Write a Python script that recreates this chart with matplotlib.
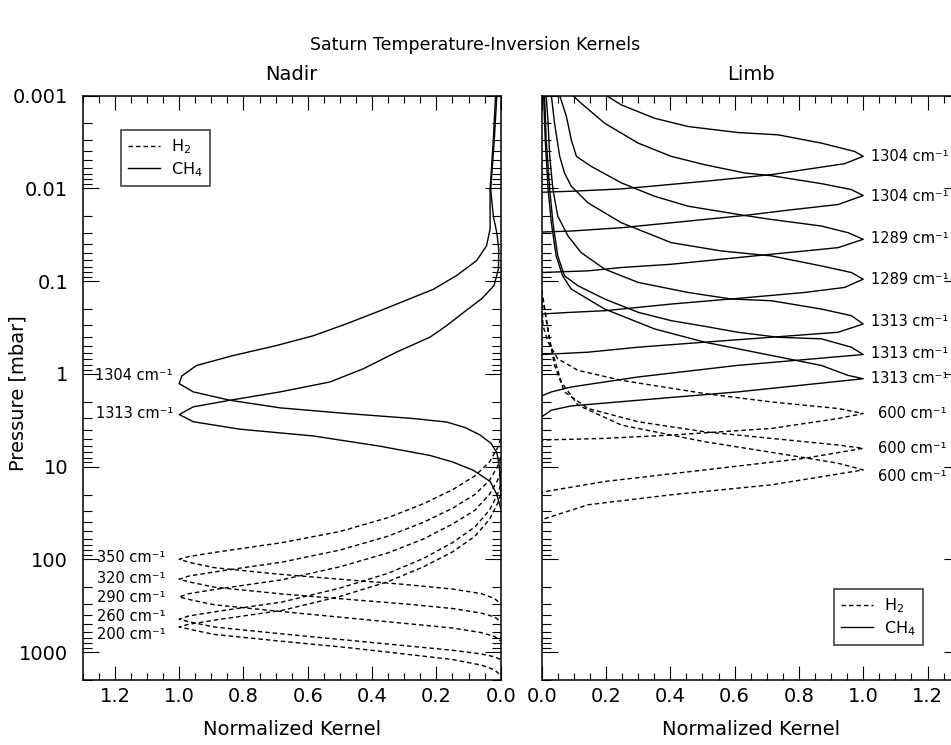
import matplotlib
matplotlib.use("Agg")
import matplotlib.pyplot as plt
import numpy as np
from matplotlib.lines import Line2D
from matplotlib.ticker import FixedLocator, NullFormatter, LogLocator

plt.rcParams['font.family'] = ['DejaVu Sans']

# ---- data: log10(pressure / mbar) and normalized kernel ----
# Nadir, CH4
nadir_1304_logp = [-3.0, -2.52, -1.99, -1.56, -1.38, -1.22, -1.06, -0.91, -0.68, -0.54, -0.41, -0.305,
                   -0.197, -0.09, 0.024, 0.106, 0.195, 0.285, 0.367, 0.428, 0.482, 0.52, 0.58, 0.66,
                   0.75, 0.85, 1.0, 1.3]
nadir_1304_k = [0.016, 0.023, 0.033, 0.033, 0.044, 0.075, 0.137, 0.21, 0.375, 0.479, 0.583, 0.697,
                0.832, 0.946, 0.992, 1.0, 0.956, 0.842, 0.686, 0.479, 0.272, 0.168, 0.11, 0.064,
                0.03, 0.012, 0.004, 0.0]
nadir_1313_logp = [-3.0, -2.52, -1.99, -1.70, -1.52, -1.34, -1.13, -0.95, -0.81, -0.66, -0.52, -0.395,
                   -0.234, -0.055, 0.088, 0.195, 0.285, 0.356, 0.439, 0.517, 0.597, 0.67, 0.78, 0.88,
                   0.95, 1.04, 1.16, 1.3, 1.45]
nadir_1313_k = [0.012, 0.02, 0.031, 0.023, 0.012, 0.006, 0.007, 0.021, 0.059, 0.116, 0.168, 0.22,
                0.324, 0.427, 0.531, 0.686, 0.842, 0.956, 1.0, 0.956, 0.811, 0.583, 0.376, 0.22,
                0.15, 0.085, 0.033, 0.012, 0.0]

# Nadir, H2
nadir_350_logp = [0.7, 0.8, 0.95, 1.1, 1.25, 1.4, 1.55, 1.7, 1.82, 1.92, 1.97, 2.0,
                  2.04, 2.09, 2.16, 2.22, 2.27, 2.32, 2.37, 2.42, 2.48]
nadir_350_k = [0.0, 0.01, 0.035, 0.08, 0.15, 0.24, 0.35, 0.5, 0.68, 0.88, 0.97, 1.0,
               0.96, 0.89, 0.69, 0.48, 0.3, 0.15, 0.06, 0.02, 0.0]
nadir_320_logp = [0.9, 1.0, 1.15, 1.3, 1.45, 1.6, 1.75, 1.9, 2.03, 2.13, 2.18, 2.216,
                  2.25, 2.3, 2.37, 2.43, 2.48, 2.53, 2.58, 2.62, 2.67]
nadir_320_k = [0.0, 0.01, 0.035, 0.08, 0.15, 0.24, 0.35, 0.5, 0.68, 0.88, 0.97, 1.0,
               0.96, 0.89, 0.69, 0.48, 0.3, 0.15, 0.06, 0.02, 0.0]
nadir_290_logp = [1.05, 1.15, 1.3, 1.47, 1.62, 1.78, 1.93, 2.08, 2.22, 2.32, 2.37, 2.406,
                  2.44, 2.49, 2.56, 2.63, 2.69, 2.74, 2.79, 2.83, 2.88]
nadir_290_k = [0.0, 0.01, 0.035, 0.08, 0.15, 0.24, 0.35, 0.5, 0.68, 0.88, 0.97, 1.0,
               0.96, 0.89, 0.69, 0.48, 0.3, 0.15, 0.06, 0.02, 0.0]
nadir_260_logp = [1.2, 1.3, 1.47, 1.65, 1.82, 1.99, 2.15, 2.31, 2.46, 2.56, 2.61, 2.646,
                  2.68, 2.73, 2.8, 2.87, 2.93, 2.98, 3.02, 3.05, 3.08]
nadir_260_k = [0.0, 0.01, 0.035, 0.08, 0.15, 0.24, 0.35, 0.5, 0.68, 0.88, 0.97, 1.0,
               0.96, 0.89, 0.69, 0.48, 0.3, 0.15, 0.06, 0.02, 0.0]
nadir_200_logp = [1.3, 1.4, 1.57, 1.75, 1.92, 2.08, 2.24, 2.4, 2.55, 2.65, 2.7, 2.728,
                  2.76, 2.81, 2.88, 2.95, 3.02, 3.08, 3.14, 3.19, 3.25]
nadir_200_k = [0.0, 0.01, 0.035, 0.08, 0.15, 0.24, 0.35, 0.5, 0.68, 0.88, 0.97, 1.0,
               0.96, 0.89, 0.69, 0.48, 0.3, 0.15, 0.06, 0.02, 0.0]

# Limb, CH4
limb_1304a_logp = [-3.0, -2.898, -2.755, -2.666, -2.601, -2.576, -2.487, -2.397, -2.344,
                   -2.265, -2.201, -2.147, -2.075, -1.993, -1.968, -1.957]
limb_1304a_k = [0.201, 0.248, 0.351, 0.455, 0.61, 0.735, 0.87, 0.973, 1.0,
                0.942, 0.818, 0.714, 0.507, 0.248, 0.092, 0.0]
limb_1304b_logp = [-3.0, -2.916, -2.701, -2.487, -2.344, -2.254, -2.165, -2.136, -2.05, -1.986, -1.922,
                   -1.825, -1.764, -1.707, -1.646, -1.575, -1.539, -1.528]
limb_1304b_k = [0.097, 0.123, 0.196, 0.3, 0.403, 0.507, 0.631, 0.714, 0.87, 0.963, 1.0,
                0.922, 0.766, 0.631, 0.455, 0.248, 0.092, 0.0]
limb_1289a_logp = [-3.0, -2.773, -2.523, -2.344, -2.236, -2.058, -1.914, -1.807, -1.707, -1.664, -1.593,
                   -1.521, -1.45, -1.36, -1.324, -1.289, -1.235, -1.181, -1.146, -1.11, -1.092]
limb_1289a_k = [0.056, 0.077, 0.092, 0.108, 0.154, 0.248, 0.351, 0.455, 0.631, 0.714, 0.87,
                0.953, 1.0, 0.922, 0.818, 0.714, 0.559, 0.403, 0.248, 0.144, 0.0]
limb_1289b_logp = [-3.0, -2.701, -2.344, -2.165, -2.022, -1.843, -1.628, -1.414, -1.324, -1.271, -1.163,
                   -1.092, -1.02, -0.931, -0.877, -0.813, -0.752, -0.68, -0.663, -0.645]
limb_1289b_k = [0.03, 0.04, 0.056, 0.071, 0.092, 0.144, 0.248, 0.403, 0.559, 0.714, 0.87,
                0.963, 1.0, 0.942, 0.818, 0.61, 0.403, 0.196, 0.092, 0.0]
limb_1313a_logp = [-3.0, -2.701, -2.344, -1.986, -1.7, -1.485, -1.306, -1.128, -0.985, -0.877, -0.806,
                   -0.788, -0.698, -0.627, -0.537, -0.448, -0.394, -0.341, -0.287, -0.233, -0.208]
limb_1313a_k = [0.014, 0.02, 0.025, 0.035, 0.05, 0.082, 0.123, 0.196, 0.3, 0.455, 0.59,
                0.714, 0.87, 0.963, 1.0, 0.922, 0.714, 0.507, 0.3, 0.144, 0.0]
limb_1313b_logp = [-3.0, -2.523, -1.986, -1.628, -1.271, -1.056, -0.949, -0.806, -0.663, -0.573, -0.512,
                   -0.448, -0.394, -0.377, -0.287, -0.208, -0.091, 0.034, 0.142, 0.195, 0.238]
limb_1313b_k = [0.009, 0.014, 0.025, 0.035, 0.05, 0.071, 0.113, 0.196, 0.3, 0.403, 0.507,
                0.61, 0.735, 0.87, 0.963, 1.0, 0.61, 0.3, 0.092, 0.03, 0.0]
limb_1313c_logp = [-3.0, -2.523, -1.986, -1.628, -1.271, -1.056, -0.913, -0.698, -0.484, -0.341, -0.198,
                   -0.09, 0.017, 0.053, 0.195, 0.285, 0.346, 0.392, 0.464]
limb_1313c_k = [0.006, 0.011, 0.02, 0.03, 0.045, 0.065, 0.092, 0.196, 0.351, 0.507, 0.714,
                0.87, 0.953, 1.0, 0.61, 0.3, 0.092, 0.03, 0.0]

# Limb, H2
limb_600a_logp = [-0.9, -0.52, -0.341, -0.162, -0.037, 0.07, 0.213, 0.303, 0.374, 0.428,
                  0.482, 0.589, 0.66, 0.696, 0.714]
limb_600a_k = [0.0, 0.004, 0.02, 0.05, 0.113, 0.248, 0.507, 0.714, 0.922, 1.0,
               0.922, 0.714, 0.403, 0.196, 0.0]
limb_600b_logp = [-0.9, -0.448, -0.091, 0.195, 0.374, 0.517, 0.625, 0.696, 0.768, 0.803,
                  0.911, 1.036, 1.161, 1.276]
limb_600b_k = [0.0, 0.02, 0.04, 0.071, 0.144, 0.3, 0.507, 0.714, 0.922, 1.0,
               0.818, 0.507, 0.196, 0.0]
limb_600c_logp = [-0.9, -0.27, 0.088, 0.338, 0.553, 0.732, 0.875, 0.964, 1.036,
                  1.197, 1.304, 1.412, 1.572]
limb_600c_k = [0.0, 0.03, 0.061, 0.113, 0.248, 0.507, 0.766, 0.922, 1.0,
               0.714, 0.403, 0.144, 0.0]

nadir_ch4 = [(nadir_1304_logp, nadir_1304_k), (nadir_1313_logp, nadir_1313_k)]
nadir_h2 = [(nadir_350_logp, nadir_350_k), (nadir_320_logp, nadir_320_k), (nadir_290_logp, nadir_290_k),
            (nadir_260_logp, nadir_260_k), (nadir_200_logp, nadir_200_k)]
limb_ch4 = [(limb_1304a_logp, limb_1304a_k), (limb_1304b_logp, limb_1304b_k),
            (limb_1289a_logp, limb_1289a_k), (limb_1289b_logp, limb_1289b_k),
            (limb_1313a_logp, limb_1313a_k), (limb_1313b_logp, limb_1313b_k),
            (limb_1313c_logp, limb_1313c_k)]
limb_h2 = [(limb_600a_logp, limb_600a_k), (limb_600b_logp, limb_600b_k), (limb_600c_logp, limb_600c_k)]

# curve labels: wavenumber and log10 pressure of the label
nadir_labels = ['1304', '1313', '350', '320', '290', '260', '200']
nadir_label_logp = [0.017, 0.428, 1.984, 2.206, 2.413, 2.617, 2.813]
limb_labels = ['1304', '1304', '1289', '1289', '1313', '1313', '1313', '600', '600', '600']
limb_label_logp = [-2.344, -1.915, -1.457, -1.02, -0.563, -0.216, 0.053, 0.428, 0.803, 1.107]

ytick_vals = [0.001, 0.01, 0.1, 1, 10, 100, 1000]
ytick_text = ['0.001', '0.01', '0.1', '1', '10', '100', '1000']
xtick_vals = [0.0, 0.2, 0.4, 0.6, 0.8, 1.0, 1.2]

DASH = (0, (3.2, 2.2))
LW = 1.0

fig = plt.figure(figsize=(9.51, 7.45), dpi=100)
ax1 = fig.add_axes([0.087, 0.0872, 0.4395, 0.7846])
ax2 = fig.add_axes([0.5696, 0.0872, 0.4395, 0.7846])

for ax in (ax1, ax2):
    ax.set_yscale('log')
    ax.set_ylim(2000, 0.001)
    ax.yaxis.set_major_locator(FixedLocator(ytick_vals))
    ax.yaxis.set_minor_locator(LogLocator(base=10, subs=np.arange(2, 10)))
    ax.yaxis.set_minor_formatter(NullFormatter())
    ax.xaxis.set_major_locator(FixedLocator(xtick_vals))
    ax.xaxis.set_minor_locator(FixedLocator(np.arange(0, 1.31, 0.05)))
    ax.tick_params(which='both', direction='in', top=True, right=True, width=0.8, labelsize=14)
    ax.tick_params(axis='x', which='major', length=10, pad=5)
    ax.tick_params(axis='x', which='minor', length=5)
    ax.tick_params(axis='y', which='major', length=11.5, pad=10.5)
    ax.tick_params(axis='y', which='minor', length=6.5)
    ax.set_xticklabels(['%.1f' % v for v in xtick_vals])
    for s in ax.spines.values():
        s.set_linewidth(1.1)
    ax.set_xlabel('Normalized Kernel', fontsize=14, labelpad=10)

ax1.set_xlim(1.3, 0.0)
ax2.set_xlim(0.0, 1.3)
ax1.set_yticklabels(ytick_text)
ax2.set_yticklabels([])
ax1.set_ylabel('Pressure [mbar]', fontsize=14)
ax1.yaxis.set_label_coords(-0.131, 0.49)
ax1.set_title('Nadir', fontsize=14, pad=11)
ax2.set_title('Limb', fontsize=14, pad=11)
fig.text(0.5, 0.94, 'Saturn Temperature-Inversion Kernels', ha='center', va='center', fontsize=12.5)

for lp, k in nadir_ch4:
    ax1.plot(k, 10 ** np.array(lp), color='black', lw=LW)
for lp, k in nadir_h2:
    ax1.plot(k, 10 ** np.array(lp), color='black', lw=LW, linestyle=DASH)
for lp, k in limb_ch4:
    ax2.plot(k, 10 ** np.array(lp), color='black', lw=LW)
for lp, k in limb_h2:
    ax2.plot(k, 10 ** np.array(lp), color='black', lw=LW, linestyle=DASH)

for txt, lp in zip(nadir_labels, nadir_label_logp):
    x0 = 1.02 if len(txt) == 4 else 1.042
    ax1.text(x0, 10 ** lp, txt + ' cm\u207b\u00b9', ha='right', va='center', fontsize=10.5)
for txt, lp in zip(limb_labels, limb_label_logp):
    x0 = 1.046 if txt == '600' else 1.025
    ax2.text(x0, 10 ** lp, txt + ' cm\u207b\u00b9', ha='left', va='center', fontsize=10.5)

handles = [Line2D([], [], color='black', lw=LW, linestyle=DASH),
           Line2D([], [], color='black', lw=LW)]
names = ['H$_2$', 'CH$_4$']
for ax, loc, anchor in ((ax1, 'upper left', (0.091, 0.941)), (ax2, 'lower right', (0.912, 0.06))):
    leg = ax.legend(handles, names, loc=loc, bbox_to_anchor=anchor, borderaxespad=0,
                    fontsize=11.5, frameon=True, fancybox=False, edgecolor='black',
                    handlelength=2.0, borderpad=0.45, labelspacing=0.25, handletextpad=0.7)
    leg.get_frame().set_linewidth(1.1)

fig.savefig('out.png', dpi=100)
